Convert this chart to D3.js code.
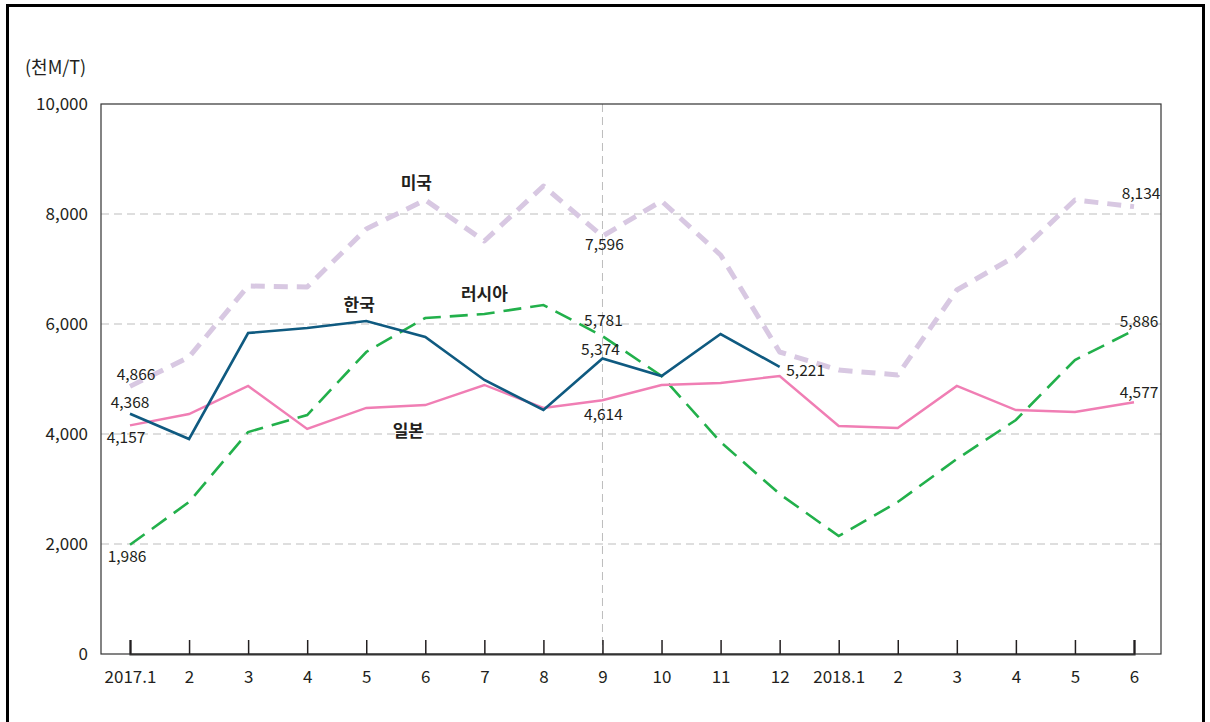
<!DOCTYPE html>
<html>
<head>
  <meta charset="utf-8">
  <title>월별 추이</title>
  <style>
    body { margin: 0; background: #fff; }
    text { font-family: "Noto Sans CJK KR", "Noto Sans", sans-serif; fill: #231f20; }
  </style>
</head>
<body>
  <svg id="main" width="1210" height="722"></svg>

  <script src="https://cdn.jsdelivr.net/npm/d3@7.0.1/dist/d3.min.js"></script>
  <script>
    const months = ['2017.1', '2', '3', '4', '5', '6', '7', '8', '9', '10', '11', '12',
      '2018.1', '2', '3', '4', '5', '6']
    const yTicks = [0, 2000, 4000, 6000, 8000, 10000]

    const usa = [4866, 5400, 6691, 6673, 7727, 8255, 7509, 8509, 7596, 8236, 7255, 5491,
      5164, 5073, 6618, 7236, 8255, 8134]
    const russia = [1986, 2764, 4036, 4345, 5491, 6109, 6182, 6345, 5781, 5055, 3855, 2909,
      2145, 2764, 3545, 4255, 5345, 5886]
    const japan = [4157, 4364, 4873, 4091, 4473, 4527, 4891, 4473, 4614, 4891, 4927, 5055,
      4145, 4109, 4873, 4436, 4400, 4577]
    const korea = [4368, 3909, 5836, 5927, 6055, 5764, 4982, 4436, 5374, 5055, 5818, 5221]

    const font = '"Noto Sans CJK KR", "Noto Sans", sans-serif'
    const svg = d3.select('#main')
    const margin = { top: 104, right: 49, bottom: 68, left: 101 }
    const width = +svg.attr('width')
    const height = +svg.attr('height')
    const innerWidth = width - margin.left - margin.right
    const innerHeight = height - margin.top - margin.bottom

    // outer frame (no bottom edge)
    svg.append('path')
      .attr('d', `M7.5,${height}V5.5H1203.5V${height}`)
      .attr('fill', 'none').attr('stroke', '#000').attr('stroke-width', 3)

    const g = svg.append('g').attr('transform', `translate(${margin.left}, ${margin.top})`)

    const xScale = d3.scalePoint().domain(d3.range(months.length))
      .range([29, innerWidth - 27])
    const yScale = d3.scaleLinear().domain([0, 10000]).range([innerHeight, 0])

    // grid
    g.selectAll('.grid').data(yTicks.filter(d => d > 0 && d < 10000))
      .join('line').attr('class', 'grid')
      .attr('x1', 0).attr('x2', innerWidth)
      .attr('y1', d => yScale(d)).attr('y2', d => yScale(d))
      .attr('stroke', '#bdbdbd').attr('stroke-dasharray', '8 5')
    g.append('line')
      .attr('x1', xScale(8)).attr('x2', xScale(8))
      .attr('y1', 0).attr('y2', innerHeight)
      .attr('stroke', '#bdbdbd').attr('stroke-dasharray', '8 5')

    // plot border
    g.append('rect').attr('width', innerWidth).attr('height', innerHeight)
      .attr('fill', 'none').attr('stroke', '#333').attr('stroke-width', 1.2)

    // axes
    const yAxis = d3.axisLeft(yScale).tickValues(yTicks).tickSize(0).tickPadding(13)
      .tickFormat(d3.format(','))
    const ya = g.append('g').call(yAxis)
      .attr('font-family', font).attr('font-size', 17).attr('fill', '#231f20')
    ya.select('.domain').remove()
    ya.selectAll('text').attr('dy', '0.35em').attr('fill', '#231f20')
      .attr('text-anchor', 'end').attr('font-size', 17)

    const xAxis = d3.axisBottom(xScale).tickSize(-14).tickPadding(25)
      .tickFormat(i => months[i])
    const xa = g.append('g').attr('transform', `translate(0, ${innerHeight})`).call(xAxis)
      .attr('font-family', font).attr('font-size', 17).attr('fill', '#231f20')
    xa.select('.domain').attr('stroke', '#333').attr('stroke-width', 2.2).attr('fill', 'none')
    xa.selectAll('.tick line').attr('stroke', '#231f20').attr('stroke-width', 1.5)
    xa.selectAll('text').attr('dy', '0.25em').attr('fill', '#231f20')
      .attr('text-anchor', 'middle').attr('font-size', 17)

    g.append('text').text('(천M/T)').attr('x', -76).attr('y', -30).attr('font-size', 18)

    const line = d3.line().x((d, i) => xScale(i)).y(d => yScale(d))

    g.append('path').datum(usa).attr('d', line).attr('fill', 'none')
      .attr('stroke', '#d8c8e2').attr('stroke-width', 5).attr('stroke-dasharray', '14 9')
      .attr('stroke-linejoin', 'round')
    g.append('path').datum(russia).attr('d', line).attr('fill', 'none')
      .attr('stroke', '#22b04b').attr('stroke-width', 2.6).attr('stroke-dasharray', '18 9')
    g.append('path').datum(japan).attr('d', line).attr('fill', 'none')
      .attr('stroke', '#f07eb4').attr('stroke-width', 2.4)
    g.append('path').datum(korea).attr('d', line).attr('fill', 'none')
      .attr('stroke', '#0f5a80').attr('stroke-width', 2.6)

    // value labels: [series, index, dx, dy]
    const valueLabels = [
      [usa, 0, 6, -12], [korea, 0, 0, -11], [japan, 0, -4, 12], [russia, 0, -3, 12],
      [usa, 8, 2, 8], [russia, 8, 1, -15], [korea, 8, -2, -9], [japan, 8, 1, 14],
      [korea, 11, 26, 4], [usa, 17, 7, -13], [russia, 17, 5, -9], [japan, 17, 5, -10]
    ]
    g.selectAll('.vlabel').data(valueLabels).join('text').attr('class', 'vlabel')
      .attr('x', d => xScale(d[1]) + d[2])
      .attr('y', d => yScale(d[0][d[1]]) + d[3])
      .attr('text-anchor', 'middle').attr('dy', '0.35em')
      .attr('font-size', 15.5)
      .text(d => d3.format(',')(d[0][d[1]]))

    // series names: [name, series, index, dx, dy]
    const seriesNames = [['미국', usa, 5, -9, -17], ['한국', korea, 4, -7, -16],
      ['러시아', russia, 6, 0, -20], ['일본', japan, 5, -17, 26]]
    g.selectAll('.sname').data(seriesNames).join('text').attr('class', 'sname')
      .attr('x', d => xScale(d[2]) + d[3])
      .attr('y', d => yScale(d[1][d[2]]) + d[4])
      .attr('text-anchor', 'middle').attr('dy', '0.35em')
      .attr('font-size', 17).attr('font-weight', 'bold')
      .text(d => d[0])
  </script>
</body>
</html>
